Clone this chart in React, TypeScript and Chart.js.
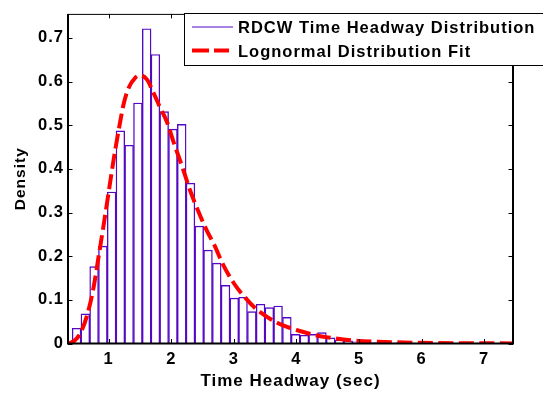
import React, { useEffect, useRef } from 'react';
import { Chart, registerables } from 'chart.js';

Chart.register(...registerables);

// Histogram bins (centres, sec) and their normalised heights
const binCenters = [
  0.487, 0.627, 0.767, 0.907, 1.047, 1.187, 1.327, 1.467, 1.607, 1.747,
  1.887, 2.027, 2.167, 2.307, 2.447, 2.587, 2.727, 2.867, 3.007, 3.147,
  3.287, 3.427, 3.567, 3.707, 3.847, 3.987, 4.127, 4.267, 4.407, 4.547,
  4.687, 4.827, 4.967, 5.107, 5.247, 5.387, 5.527, 5.667, 5.807, 5.947,
  6.087, 6.227, 6.367, 6.507, 6.647, 6.787, 6.927, 7.067, 7.207, 7.347,
];
const density = [
  0.035, 0.068, 0.176, 0.223, 0.347, 0.487, 0.454, 0.551, 0.721, 0.662,
  0.531, 0.491, 0.502, 0.367, 0.269, 0.214, 0.184, 0.133, 0.104, 0.106,
  0.073, 0.09, 0.082, 0.086, 0.06, 0.021, 0.019, 0.021, 0.025, 0.013,
  0.008, 0.006, 0.004, 0.004, 0.002, 0.002, 0.001, 0.002, 0.001, 0.001,
  0, 0.001, 0, 0.001, 0, 0, 0.001, 0, 0, 0.001,
];

// Fitted lognormal density curve
const fitX = [
  0.35, 0.45, 0.55, 0.65, 0.75, 0.84, 0.92, 1.0, 1.08, 1.16,
  1.24, 1.32, 1.42, 1.5, 1.61, 1.72, 1.82, 1.93, 2.04, 2.17,
  2.3, 2.44, 2.57, 2.68, 2.83, 3.0, 3.18, 3.35, 3.53, 3.7,
  3.85, 4.0, 4.25, 4.5, 4.9, 5.3, 6.0, 6.7, 7.46,
];
const fitY = [
  0.0, 0.006, 0.024, 0.062, 0.122, 0.2, 0.272, 0.347, 0.422, 0.489,
  0.549, 0.586, 0.608, 0.614, 0.605, 0.573, 0.541, 0.508, 0.46, 0.407,
  0.351, 0.3, 0.258, 0.228, 0.18, 0.138, 0.105, 0.08, 0.061, 0.047,
  0.038, 0.031, 0.021, 0.014, 0.007, 0.004, 0.0015, 0.0006, 0.0002,
];

const xTickValues = [1, 2, 3, 4, 5, 6, 7];
const yTickValues = [0, 0.1, 0.2, 0.3, 0.4, 0.5, 0.6, 0.7];
const legendLabels = ['RDCW Time Headway Distribution', 'Lognormal Distribution Fit'];
const xTitle = 'Time Headway (sec)';
const yTitle = 'Density';

const PURPLE = 'rgb(84, 8, 196)';
const RED = '#ff0000';
const FAMILY = '"Liberation Sans", Arial, Helvetica, sans-serif';
const TICK_LEN = 4.5;

export default function App() {
  const ref = useRef<HTMLCanvasElement>(null);

  useEffect(() => {
    const canvas = ref.current;
    if (!canvas) return;

    // Box frame, inward ticks on all four sides, axis titles and legend
    const axesDecor = {
      id: 'axesDecor',
      beforeDraw(chart: any) {
        chart.ctx.letterSpacing = '1px';
      },
      afterDraw(chart: any) {
        const { ctx, chartArea: a, scales } = chart;
        const xs = scales.x;
        const ys = scales.y;
        ctx.save();
        ctx.letterSpacing = '1px';
        ctx.strokeStyle = '#000';
        ctx.setLineDash([]);

        // frame
        ctx.lineWidth = 1;
        ctx.beginPath();
        ctx.moveTo(a.left, a.top + 0.5);
        ctx.lineTo(a.right, a.top + 0.5);
        ctx.stroke();
        ctx.lineWidth = 2;
        ctx.beginPath();
        ctx.moveTo(a.left, a.top);
        ctx.lineTo(a.left, a.bottom);
        ctx.lineTo(a.right, a.bottom);
        ctx.lineTo(a.right, a.top);
        ctx.stroke();

        // ticks
        ctx.lineWidth = 1;
        ctx.beginPath();
        xTickValues.forEach((v) => {
          const px = Math.round(xs.getPixelForValue(v)) + 0.5;
          ctx.moveTo(px, a.bottom);
          ctx.lineTo(px, a.bottom - TICK_LEN);
          ctx.moveTo(px, a.top);
          ctx.lineTo(px, a.top + TICK_LEN);
        });
        yTickValues.forEach((v) => {
          const py = Math.round(ys.getPixelForValue(v)) + 0.5;
          ctx.moveTo(a.left, py);
          ctx.lineTo(a.left + TICK_LEN, py);
          ctx.moveTo(a.right, py);
          ctx.lineTo(a.right - TICK_LEN, py);
        });
        ctx.stroke();

        // axis titles
        ctx.fillStyle = '#000';
        ctx.font = `bold 17px ${FAMILY}`;
        ctx.textAlign = 'center';
        ctx.textBaseline = 'middle';
        ctx.fillText(xTitle, (a.left + a.right) / 2, 381);
        ctx.save();
        ctx.translate(21, (a.top + a.bottom) / 2);
        ctx.rotate(-Math.PI / 2);
        ctx.font = `bold 15.5px ${FAMILY}`;
        ctx.fillText(yTitle, 0, 0);
        ctx.restore();

        // legend
        const bx = 184.5;
        const by = 13.5;
        ctx.fillStyle = '#fff';
        ctx.fillRect(bx, by, 370, 52);
        ctx.lineWidth = 1;
        ctx.strokeStyle = '#000';
        ctx.strokeRect(bx, by, 370, 52);

        ctx.strokeStyle = PURPLE;
        ctx.lineWidth = 1;
        ctx.beginPath();
        ctx.moveTo(192, 27);
        ctx.lineTo(233, 27);
        ctx.stroke();

        ctx.strokeStyle = RED;
        ctx.lineWidth = 4;
        ctx.setLineDash([17, 5]);
        ctx.beginPath();
        ctx.moveTo(192, 50.5);
        ctx.lineTo(229, 50.5);
        ctx.stroke();
        ctx.setLineDash([]);

        ctx.fillStyle = '#000';
        ctx.font = `bold 16.5px ${FAMILY}`;
        ctx.textAlign = 'left';
        ctx.textBaseline = 'middle';
        ctx.fillText(legendLabels[0], 238, 28.5);
        ctx.fillText(legendLabels[1], 238, 52.5);
        ctx.restore();
      },
    };

    const tickFont = { family: FAMILY, size: 16.5, weight: 'bold' as const };

    const chart = new Chart(canvas, {
      type: 'bar',
      data: {
        datasets: [
          {
            type: 'line',
            label: legendLabels[1],
            data: fitX.map((x, i) => ({ x, y: fitY[i] })),
            borderColor: RED,
            borderWidth: 4,
            borderDash: [15, 5.5],
            borderCapStyle: 'butt',
            pointRadius: 0,
            fill: false,
            cubicInterpolationMode: 'monotone',
            order: 0,
          } as any,
          {
            type: 'bar',
            label: legendLabels[0],
            data: binCenters.map((x, i) => ({ x, y: density[i] })),
            backgroundColor: '#ffffff',
            borderColor: PURPLE,
            borderWidth: 1.4,
            barPercentage: 1,
            categoryPercentage: 1,
            order: 1,
          } as any,
        ],
      },
      options: {
        responsive: false,
        animation: false,
        devicePixelRatio: 1,
        layout: { padding: { left: 0, top: 5, right: 30, bottom: 0 } },
        plugins: {
          legend: { display: false },
          tooltip: { enabled: false },
        },
        scales: {
          x: {
            type: 'linear',
            min: 0.35,
            max: 7.46,
            offset: false,
            grid: { display: false, drawTicks: false },
            border: { display: false },
            afterBuildTicks: (s: any) => {
              s.ticks = xTickValues.map((v) => ({ value: v }));
            },
            afterFit: (s: any) => {
              s.height = 49.5;
            },
            ticks: {
              font: tickFont,
              color: '#000',
              padding: 6,
              maxRotation: 0,
              autoSkip: false,
              callback: (v: any) => String(v),
            },
          },
          y: {
            type: 'linear',
            min: 0,
            max: 0.755,
            grid: { display: false, drawTicks: false },
            border: { display: false },
            afterBuildTicks: (s: any) => {
              s.ticks = yTickValues.map((v) => ({ value: v }));
            },
            afterFit: (s: any) => {
              s.width = 68;
            },
            ticks: {
              font: tickFont,
              color: '#000',
              padding: 4,
              autoSkip: false,
              callback: (v: any) => (v === 0 ? '0' : Number(v).toFixed(1)),
            },
          },
        },
      } as any,
      plugins: [axesDecor],
    });

    return () => chart.destroy();
  }, []);

  return (
    <div style={{ position: 'absolute', left: 0, top: 0, width: 543, height: 393, background: '#fff' }}>
      <canvas ref={ref} width={543} height={393} style={{ display: 'block' }} />
    </div>
  );
}
